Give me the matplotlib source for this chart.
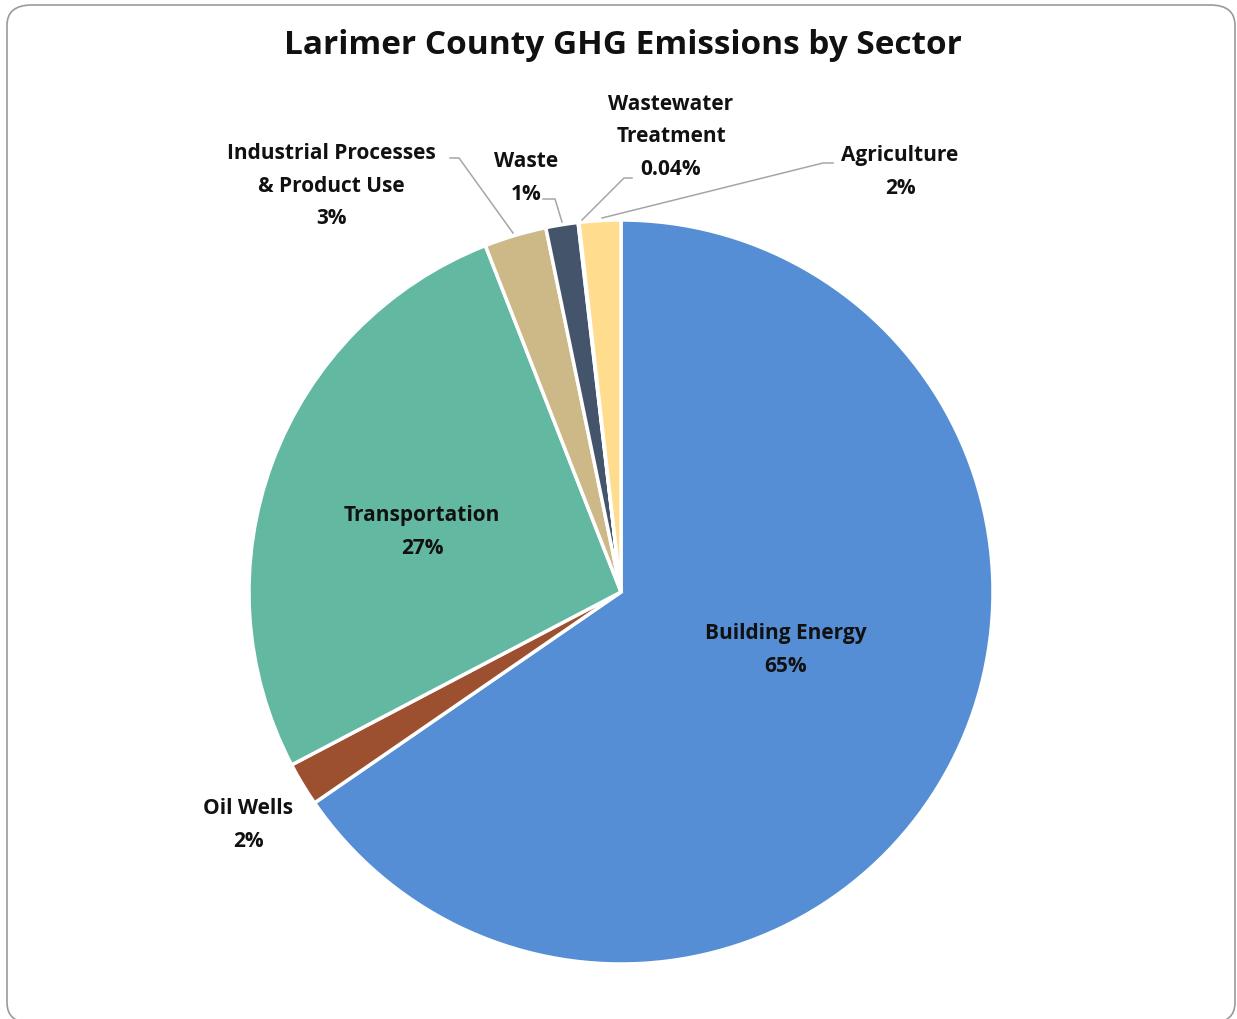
import numpy as np
import matplotlib.pyplot as plt
from matplotlib.patches import FancyBboxPatch

# sector shares (percent), clockwise from 12 o'clock
sectors = ["Building Energy", "Oil Wells", "Transportation",
           "Industrial Processes\n& Product Use", "Waste",
           "Wastewater\nTreatment", "Agriculture"]
shares = [65.4, 1.9, 26.75, 2.7, 1.4, 0.04, 1.8]
colors = ["#558ED5", "#9C5030", "#62B8A0", "#CDB888", "#44546A", "#A5A5A5", "#FFDC8E"]

title = "Larimer County GHG Emissions by Sector"

W, H = 1237, 1019
cx, cy, R = 621, 592, 372   # pie centre / radius in pixels

def px(x, y):
    return (x - cx) / R, (cy - y) / R

def pct(v):
    return f"{v:.2f}%" if v < 1 else f"{v:.0f}%"

fig = plt.figure(figsize=(W / 100, H / 100), dpi=100)
ax = fig.add_axes([0, 0, 1, 1])

ax.pie(shares, colors=colors, startangle=90, counterclock=False, radius=1.0,
       wedgeprops=dict(edgecolor="white", linewidth=2.5))
ax.set_aspect("auto")
ax.set_xlim(-cx / R, (W - cx) / R)
ax.set_ylim(-(H - cy) / R, cy / R)
ax.axis("off")

# rounded chart-area border (bottom edge falls just outside the image)
fig.patches.append(FancyBboxPatch((7 / W, -4 / H), 1228 / W, 1018 / H,
                                  boxstyle="round,pad=0,rounding_size=0.02",
                                  transform=fig.transFigure, facecolor="none",
                                  edgecolor="#9A9A9A", linewidth=1.2, clip_on=False))

font = dict(family="Open Sans", fontweight="bold", color="#111111", fontsize=15,
            ha="center", va="center", linespacing=1.7)

# label anchor positions (pixels)
label_pos = [(786, 650), (248, 825), (422, 532), (331, 186), (526, 178), (671, 137), (900, 172)]
for name, v, (x, y) in zip(sectors, shares, label_pos):
    ax.text(*px(x, y), f"{name}\n{pct(v)}", **font)

# leader lines (pixels)
leaders = [
    [(450, 158), (459, 158), (513, 233)],
    [(543, 199), (555, 199), (562, 222)],
    [(632, 178), (624, 178), (582, 220)],
    [(833, 163), (823, 163), (602, 218)],
]
for pts in leaders:
    xs, ys = zip(*[px(x, y) for x, y in pts])
    ax.plot(xs, ys, color="#A6A6A6", linewidth=1.1)

ax.text(*px(623, 46), title, family="Open Sans", fontweight="bold", fontsize=24,
        color="#111111", ha="center", va="center")

fig.savefig("out.png", dpi=100)
